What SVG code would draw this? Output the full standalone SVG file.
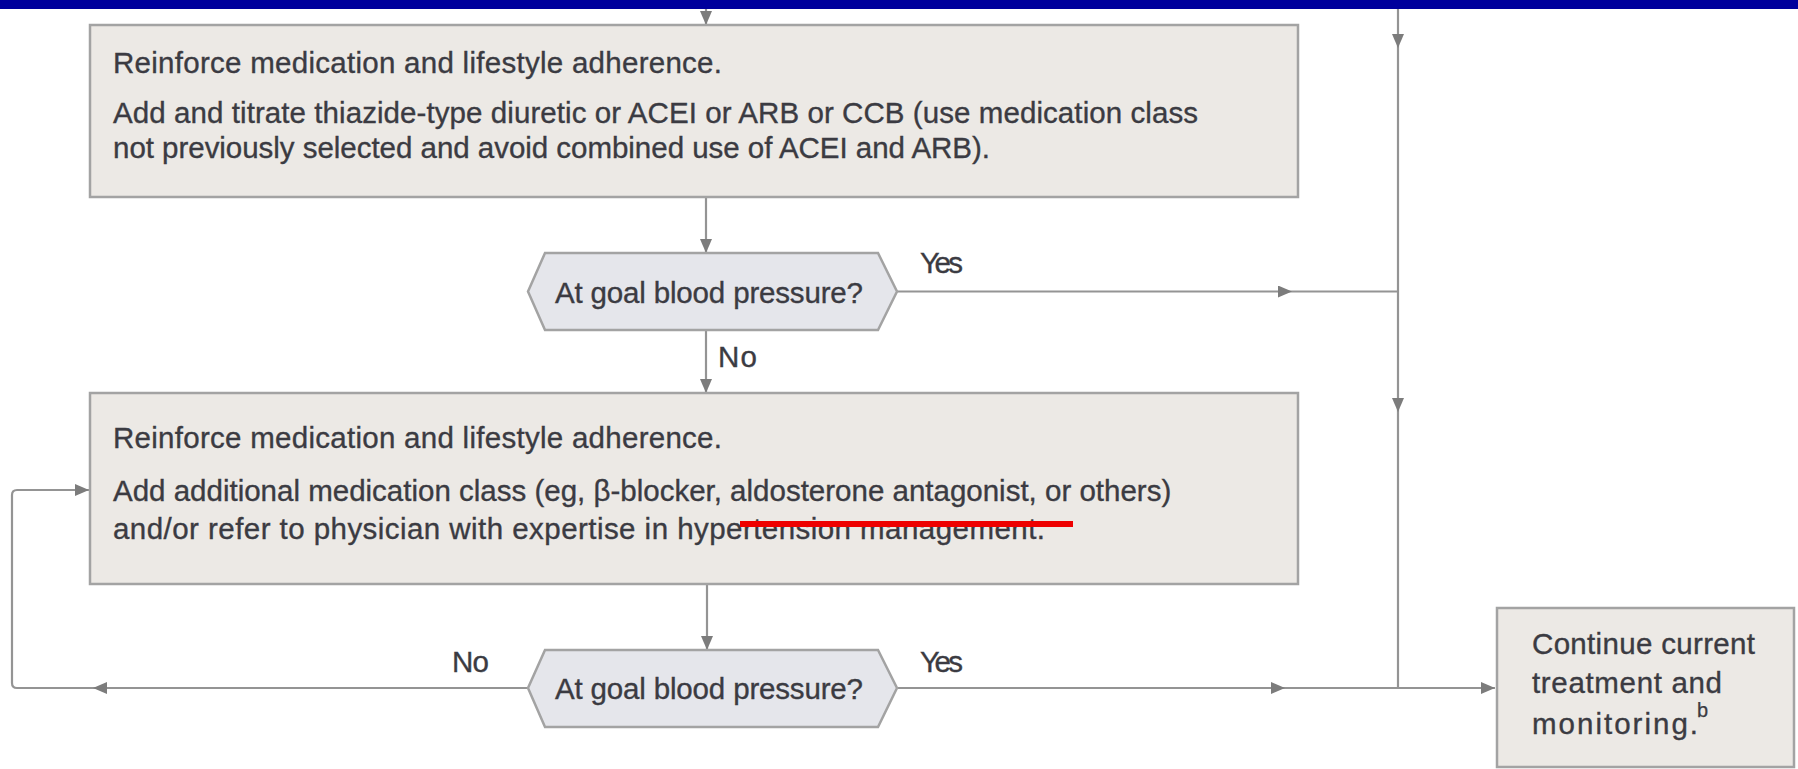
<svg xmlns="http://www.w3.org/2000/svg" width="1798" height="769" viewBox="0 0 1798 769">
<style>
.box{fill:#ece9e5;stroke:#a3a3a3;stroke-width:2.5}
.hex{fill:#e5e6eb;stroke:#a3a3a3;stroke-width:2.5}
.t{font-family:"Liberation Sans",Arial,sans-serif;font-size:29.5px;fill:#3b3b42;stroke:#3b3b42;stroke-width:0.35}
.sup{font-family:"Liberation Sans",Arial,sans-serif;font-size:20px;fill:#3b3b42;stroke:#3b3b42;stroke-width:0.25}
.c{fill:none;stroke:#949494;stroke-width:2.2}
.ca{fill:none;stroke:#949494;stroke-width:2.2;marker-end:url(#ah)}
</style>
<defs>
<marker id="ah" markerUnits="userSpaceOnUse" markerWidth="14" markerHeight="12" refX="14" refY="6" orient="auto" viewBox="0 0 14 12">
<path d="M0,0 L14,6 L0,12 z" fill="#7c7c7c"/>
</marker>
</defs>
<rect x="0" y="0" width="1798" height="9" fill="#00009c"/>
<g id="connectors">
<path class="ca" d="M706,9 V25"/>
<path class="ca" d="M1398,9 V48"/>
<path class="ca" d="M1398,48 V412"/>
<path class="c" d="M1398,412 V688"/>
<path class="ca" d="M706,197 V253"/>
<path class="ca" d="M897,291.5 H1292"/>
<path class="c" d="M1292,291.5 H1398"/>
<path class="ca" d="M706,330 V393"/>
<path class="ca" d="M707,584 V650"/>
<path class="ca" d="M897,688 H1285"/>
<path class="ca" d="M1285,688 H1495"/>
<path class="ca" d="M528,688 H93"/>
<path class="ca" d="M93,688 H17 Q12,688 12,683 V495 Q12,490 17,490 H89"/>
</g>
<g id="box1">
<rect class="box" x="90" y="25" width="1208" height="172"/>
<text class="t" x="113" y="73" textLength="609">Reinforce medication and lifestyle adherence.</text>
<text class="t" x="113" y="123" textLength="1085">Add and titrate thiazide-type diuretic or ACEI or ARB or CCB (use medication class</text>
<text class="t" x="113" y="158" textLength="877">not previously selected and avoid combined use of ACEI and ARB).</text>
</g>
<g id="decision1">
<polygon class="hex" points="528,291.5 545,253 878,253 897,291.5 878,330 545,330"/>
<text class="t" x="555" y="303" textLength="308">At goal blood pressure?</text>
</g>
<g id="labels1">
<text class="t" x="920" y="273" textLength="43">Yes</text>
<text class="t" x="718" y="367" textLength="39">No</text>
</g>
<g id="box2">
<rect class="box" x="90" y="393" width="1208" height="191"/>
<text class="t" x="113" y="448" textLength="609">Reinforce medication and lifestyle adherence.</text>
<text class="t" x="113" y="501">Add additional medication class (eg, β-blocker, aldosterone antagonist, or others)</text>
<text class="t" x="113" y="539" textLength="932">and/or refer to physician with expertise in hypertension management.</text>
<rect x="740" y="521" width="333" height="6" fill="#ee0000"/>
</g>
<g id="decision2">
<polygon class="hex" points="528,688 545,650 878,650 897,688 878,727 545,727"/>
<text class="t" x="555" y="699" textLength="308">At goal blood pressure?</text>
</g>
<g id="labels2">
<text class="t" x="452" y="672" textLength="37">No</text>
<text class="t" x="920" y="672" textLength="43">Yes</text>
</g>
<g id="box3">
<rect class="box" x="1497" y="608" width="297" height="159"/>
<text class="t" x="1532" y="654" textLength="223">Continue current</text>
<text class="t" x="1532" y="693" textLength="190">treatment and</text>
<text class="t" x="1532" y="734" textLength="166">monitoring.</text>
<text class="sup" x="1697" y="717">b</text>
</g>
</svg>
